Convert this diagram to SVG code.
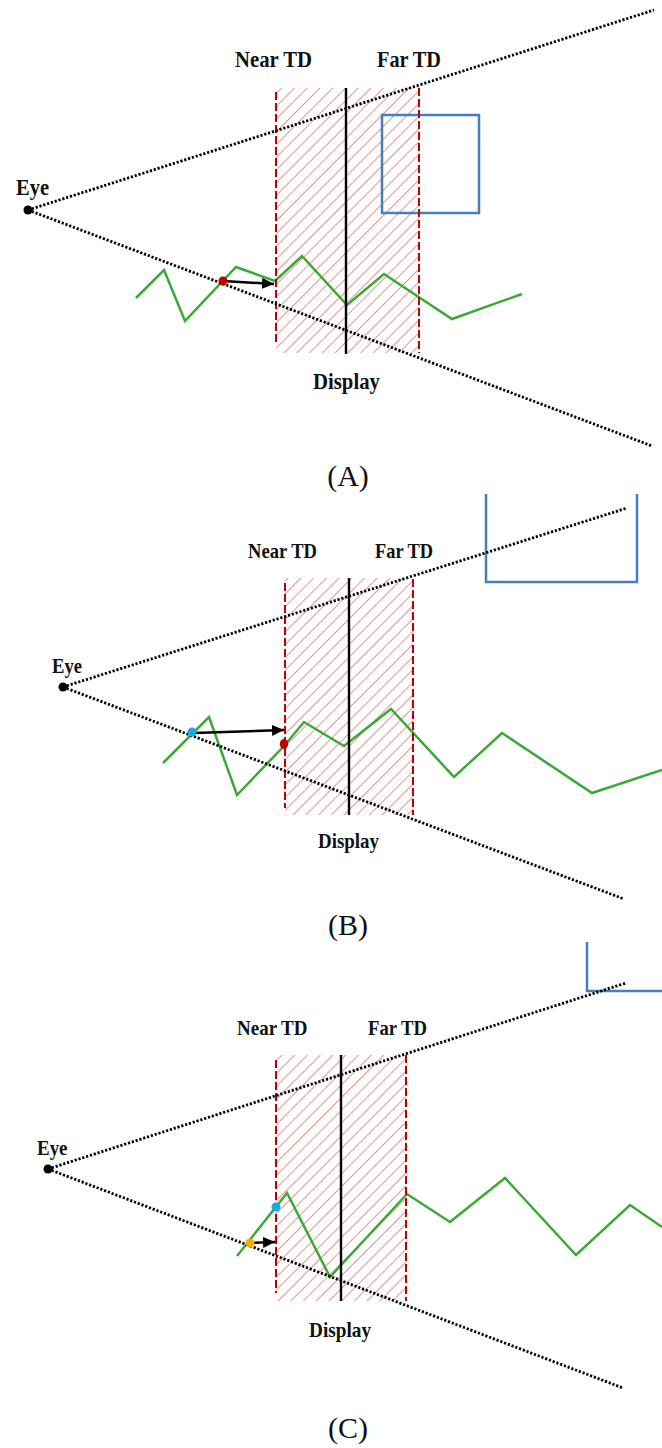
<svg xmlns="http://www.w3.org/2000/svg" width="662" height="1448" viewBox="0 0 662 1448">
<style>
.lbl{font-family:"Liberation Serif","Times New Roman",serif;font-weight:bold;fill:#111}
.cap{font-family:"Liberation Serif","Times New Roman",serif;font-size:30px;fill:#111;text-anchor:middle}
.sight{stroke:#000;stroke-width:2.8;stroke-dasharray:2.2 1.8;fill:none}
.zone{fill:url(#hatch)}
.td{stroke:#c00000;stroke-width:2;stroke-dasharray:8 3;fill:none}
.disp{stroke:#000;stroke-width:2.4;fill:none}
.obj{stroke:#4a7ebb;stroke-width:2.5;fill:none}
.sig{stroke:#3aaa35;stroke-width:2.5;fill:none;stroke-linejoin:miter}
.arr{stroke:#000;stroke-width:2.5;fill:none;marker-end:url(#ah)}
</style>
<defs>
<pattern id="hatch" patternUnits="userSpaceOnUse" width="9" height="9" patternTransform="rotate(45)">
<line x1="0" y1="0" x2="0" y2="9" stroke="#cf3a3a" stroke-width="1.1"/>
</pattern>
<marker id="ah" markerUnits="userSpaceOnUse" markerWidth="12" markerHeight="11" refX="12" refY="5.5" orient="auto">
<path d="M0,0 L12,5.5 L0,11 z" fill="#000"/>
</marker>
</defs>
<rect width="662" height="1448" fill="#fff"/>

<!-- Panel A -->
<g id="panelA">
<g id="A-zone"><rect class="zone" x="276" y="88" width="143" height="265"/></g>
<g id="A-object"><rect class="obj" x="382" y="115" width="97" height="98"/></g>
<g id="A-signal"><polyline class="sig" points="136,298 164,270 185,321 236,267 275,281 302,256 347,305 384,274 452,319 522,294"/></g>
<g id="A-neartd"><line class="td" x1="276" y1="92" x2="276" y2="345"/></g>
<g id="A-fartd"><line class="td" x1="419" y1="88" x2="419" y2="353"/></g>
<g id="A-display"><line class="disp" x1="346" y1="88" x2="346" y2="354"/></g>
<g id="A-connectors">
<line class="sight" x1="28" y1="210" x2="654" y2="10"/>
<line class="sight" x1="28" y1="210" x2="652" y2="446"/>
<line class="arr" x1="223" y1="281" x2="274" y2="284"/>
</g>
<g id="A-eye"><circle cx="28" cy="210" r="4.5" fill="#000"/><text class="lbl" x="16" y="195" font-size="22.5" textLength="33" lengthAdjust="spacingAndGlyphs">Eye</text></g>
<g id="A-point"><circle cx="223" cy="281" r="4.5" fill="#c00000"/></g>
<text class="lbl" x="235" y="67" font-size="22.5" textLength="77" lengthAdjust="spacingAndGlyphs">Near TD</text>
<text class="lbl" x="377" y="67" font-size="22.5" textLength="64" lengthAdjust="spacingAndGlyphs">Far TD</text>
<text class="lbl" x="313" y="389" font-size="22.5" textLength="67" lengthAdjust="spacingAndGlyphs">Display</text>
<text class="cap" x="348" y="486">(A)</text>
</g>

<!-- Panel B -->
<g id="panelB">
<g id="B-zone"><rect class="zone" x="285" y="578" width="128" height="237"/></g>
<g id="B-object"><path class="obj" d="M486,494 V582 H637 V494"/></g>
<g id="B-signal"><polyline class="sig" points="163,763 209,717 237,795 284,746 304,722 344,746 391,709 454,777 502,733 592,793 662,770"/></g>
<g id="B-neartd"><line class="td" x1="285" y1="583" x2="285" y2="808"/></g>
<g id="B-fartd"><line class="td" x1="413" y1="579" x2="413" y2="815"/></g>
<g id="B-display"><line class="disp" x1="349" y1="578" x2="349" y2="815"/></g>
<g id="B-connectors">
<line class="sight" x1="63" y1="687" x2="627" y2="508"/>
<line class="sight" x1="63" y1="687" x2="624" y2="899"/>
<line class="arr" x1="194" y1="733" x2="284" y2="730"/>
</g>
<g id="B-eye"><circle cx="63" cy="687" r="4.5" fill="#000"/><text class="lbl" x="52" y="673" font-size="21" textLength="30" lengthAdjust="spacingAndGlyphs">Eye</text></g>
<g id="B-point1"><circle cx="192" cy="732" r="4.5" fill="#1ea7e1"/></g>
<g id="B-point2"><ellipse cx="284" cy="744" rx="4.2" ry="5" fill="#c00000"/></g>
<text class="lbl" x="248" y="558" font-size="21" textLength="69" lengthAdjust="spacingAndGlyphs">Near TD</text>
<text class="lbl" x="375" y="558" font-size="21" textLength="58" lengthAdjust="spacingAndGlyphs">Far TD</text>
<text class="lbl" x="318" y="848" font-size="21" textLength="61" lengthAdjust="spacingAndGlyphs">Display</text>
<text class="cap" x="348" y="935">(B)</text>
</g>

<!-- Panel C -->
<g id="panelC">
<g id="C-zone"><rect class="zone" x="276" y="1055" width="130" height="246"/></g>
<g id="C-object"><path class="obj" d="M587,942 V991 H662"/></g>
<g id="C-signal"><polyline class="sig" points="237,1256 287,1193 330,1277 407,1194 450,1222 505,1178 576,1255 630,1205 662,1227"/></g>
<g id="C-neartd"><line class="td" x1="276" y1="1060" x2="276" y2="1293"/></g>
<g id="C-fartd"><line class="td" x1="406" y1="1055" x2="406" y2="1301"/></g>
<g id="C-display"><line class="disp" x1="341" y1="1055" x2="341" y2="1301"/></g>
<g id="C-connectors">
<line class="sight" x1="48" y1="1169" x2="626" y2="983"/>
<line class="sight" x1="48" y1="1169" x2="623" y2="1388"/>
<line class="arr" x1="250" y1="1243" x2="275" y2="1242"/>
</g>
<g id="C-eye"><circle cx="48" cy="1169" r="4.5" fill="#000"/><text class="lbl" x="37" y="1155" font-size="21" textLength="30.5" lengthAdjust="spacingAndGlyphs">Eye</text></g>
<g id="C-point1"><circle cx="276" cy="1207" r="4.5" fill="#1ea7e1"/></g>
<g id="C-point2"><circle cx="250" cy="1243" r="4.5" fill="#f0b000"/></g>
<text class="lbl" x="237" y="1035" font-size="21" textLength="70.5" lengthAdjust="spacingAndGlyphs">Near TD</text>
<text class="lbl" x="368" y="1035" font-size="21" textLength="59" lengthAdjust="spacingAndGlyphs">Far TD</text>
<text class="lbl" x="309" y="1337" font-size="21" textLength="62" lengthAdjust="spacingAndGlyphs">Display</text>
<text class="cap" x="348" y="1438">(C)</text>
</g>
</svg>
